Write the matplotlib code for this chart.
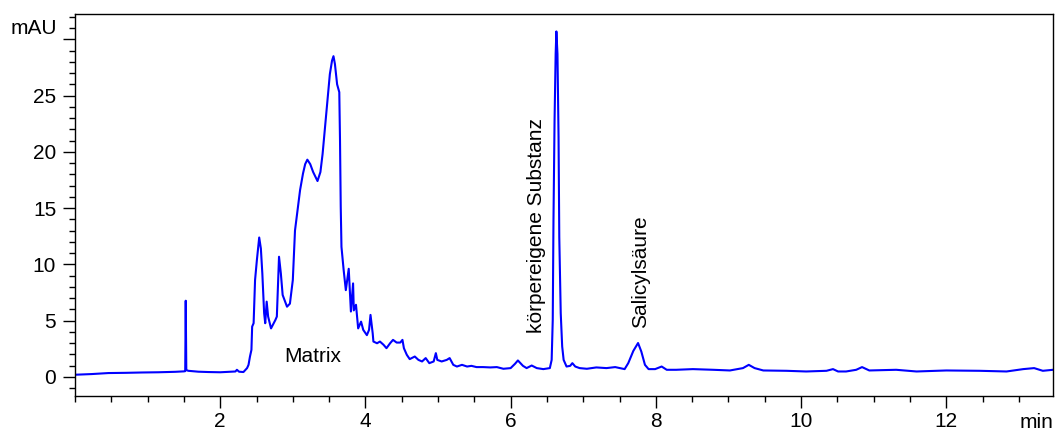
#import matplotlib
import matplotlib
matplotlib.use('Agg')
import matplotlib.pyplot as plt
from matplotlib.ticker import MultipleLocator

#retention time in min
rt = [0.00, 0.23, 0.46, 0.70, 0.92, 1.15, 1.38, 1.50, 1.518, 1.525, 1.533, 1.56, 1.70, 1.84, 2.00,
      2.14, 2.21, 2.23, 2.26, 2.32, 2.37, 2.39, 2.41, 2.43, 2.44, 2.46, 2.48, 2.505, 2.537, 2.56,
      2.58, 2.605, 2.62, 2.64, 2.66, 2.70, 2.76, 2.78, 2.81, 2.835, 2.86, 2.92, 2.96, 3.00, 3.03,
      3.07, 3.10, 3.14, 3.17, 3.20, 3.24, 3.28, 3.34, 3.38, 3.41, 3.44, 3.48, 3.51, 3.54, 3.56,
      3.58, 3.61, 3.64, 3.65, 3.66, 3.67, 3.70, 3.73, 3.77, 3.80, 3.83, 3.84, 3.87, 3.90, 3.94,
      3.97, 4.02, 4.05, 4.07, 4.10, 4.11, 4.16, 4.20, 4.25, 4.29, 4.34, 4.38, 4.43, 4.48, 4.51,
      4.53, 4.57, 4.61, 4.68, 4.73, 4.78, 4.83, 4.88, 4.94, 4.97, 4.99, 5.05, 5.12, 5.16, 5.21,
      5.26, 5.33, 5.40, 5.46, 5.53, 5.62, 5.72, 5.81, 5.90, 6.00, 6.06, 6.10, 6.17, 6.22, 6.29,
      6.36, 6.45, 6.54, 6.565, 6.58, 6.59, 6.605, 6.62, 6.63, 6.645, 6.66, 6.67, 6.69, 6.71, 6.73,
      6.77, 6.82, 6.85, 6.89, 6.95, 7.05, 7.18, 7.32, 7.44, 7.57, 7.62, 7.69, 7.755, 7.80, 7.85,
      7.90, 7.99, 8.08, 8.15, 8.28, 8.51, 8.79, 9.02, 9.20, 9.28, 9.36, 9.48, 9.80, 10.07, 10.35,
      10.44, 10.51, 10.62, 10.76, 10.84, 10.94, 11.31, 11.59, 12.00, 12.46, 12.83, 13.06, 13.21, 13.33, 13.47]
#absorbance in mAU
mau = [0.18, 0.24, 0.33, 0.35, 0.38, 0.40, 0.44, 0.48, 0.50, 6.76, 0.60, 0.53, 0.45, 0.42, 0.40,
       0.45, 0.47, 0.62, 0.45, 0.42, 0.77, 1.06, 1.80, 2.39, 4.46, 4.76, 8.60, 10.37, 12.38, 11.40,
       9.20, 5.65, 4.76, 6.68, 5.35, 4.30, 5.05, 5.35, 10.67, 9.20, 7.27, 6.23, 6.50, 8.60, 13.00,
       15.10, 16.60, 18.06, 18.90, 19.30, 18.90, 18.20, 17.40, 18.20, 19.80, 21.90, 24.60, 26.90, 28.10, 28.50,
       27.80, 26.00, 25.30, 21.00, 15.10, 11.55, 9.50, 7.70, 9.60, 5.80, 8.30, 5.90, 6.40, 4.30, 4.90,
       4.17, 3.70, 4.17, 5.50, 3.87, 3.13, 2.98, 3.13, 2.84, 2.54, 2.98, 3.28, 3.04, 3.04, 3.28,
       2.54, 1.95, 1.57, 1.80, 1.50, 1.36, 1.66, 1.21, 1.36, 2.10, 1.50, 1.36, 1.50, 1.66, 1.06,
       0.91, 1.06, 0.91, 0.97, 0.86, 0.86, 0.83, 0.86, 0.71, 0.77, 1.15, 1.45, 0.97, 0.77, 1.00,
       0.77, 0.68, 0.77, 1.50, 5.05, 13.90, 22.80, 28.70, 30.70, 28.70, 21.30, 12.40, 5.65, 2.69, 1.50,
       0.91, 0.97, 1.21, 0.91, 0.77, 0.71, 0.83, 0.77, 0.86, 0.68, 1.21, 2.30, 3.00, 2.24, 1.06,
       0.68, 0.68, 0.91, 0.62, 0.62, 0.68, 0.62, 0.56, 0.77, 1.06, 0.77, 0.56, 0.53, 0.47, 0.53,
       0.68, 0.47, 0.47, 0.62, 0.86, 0.56, 0.62, 0.47, 0.56, 0.53, 0.47, 0.68, 0.77, 0.53, 0.62]

#y tick labels, the top one is replaced by the unit
y_ticks = [0, 5, 10, 15, 20, 25, 30]
y_labels = ['0', '5', '10', '15', '20', '25', '']
x_ticks = [2, 4, 6, 8, 10, 12]

#peak annotations
peak_labels = ['Matrix', 'körpereigene Substanz', 'Salicylsäure']
peak_rt = [3.27, 6.36, 7.785]
peak_y = [1.33, 3.9, 4.3]

plt.rcParams['font.family'] = ['Liberation Sans', 'DejaVu Sans']
fs = 15

fig = plt.figure(figsize=(10.56, 4.33), dpi=100)
ax = fig.add_axes([75/1056, 1-396/433, (1053-75)/1056, (396-14)/433])

#draw the chromatogram
ax.plot(rt, mau, color='#0000ff', lw=1.5)

ax.set_xlim(0, 13.47)
ax.set_ylim(-1.71, 32.25)
ax.set_xticks(x_ticks)
ax.set_xticklabels([str(t) for t in x_ticks])
ax.set_yticks(y_ticks)
ax.set_yticklabels(y_labels)
ax.xaxis.set_minor_locator(MultipleLocator(0.5))
ax.yaxis.set_minor_locator(MultipleLocator(1))
ax.tick_params(which='major', direction='out', length=8.5, width=1, labelsize=fs, pad=3)
ax.tick_params(which='minor', direction='out', length=4.5, width=1)
ax.tick_params(axis='y', which='major', pad=5)
for s in ax.spines.values():
    s.set_linewidth(1)

#peak names
ax.text(peak_rt[0], peak_y[0], peak_labels[0], fontsize=fs, ha='center', va='baseline')
ax.text(peak_rt[1], peak_y[1], peak_labels[1], fontsize=fs, ha='center', va='bottom', rotation=90)
ax.text(peak_rt[2], peak_y[2], peak_labels[2], fontsize=fs, ha='center', va='bottom', rotation=90)

#axis units
fig.text(57/1056, 1-28/433, 'mAU', fontsize=fs, ha='right', va='center')
fig.text(1053/1056, 1-428.5/433, 'min', fontsize=fs, ha='right', va='baseline')

plt.savefig('out.png', dpi=100)
